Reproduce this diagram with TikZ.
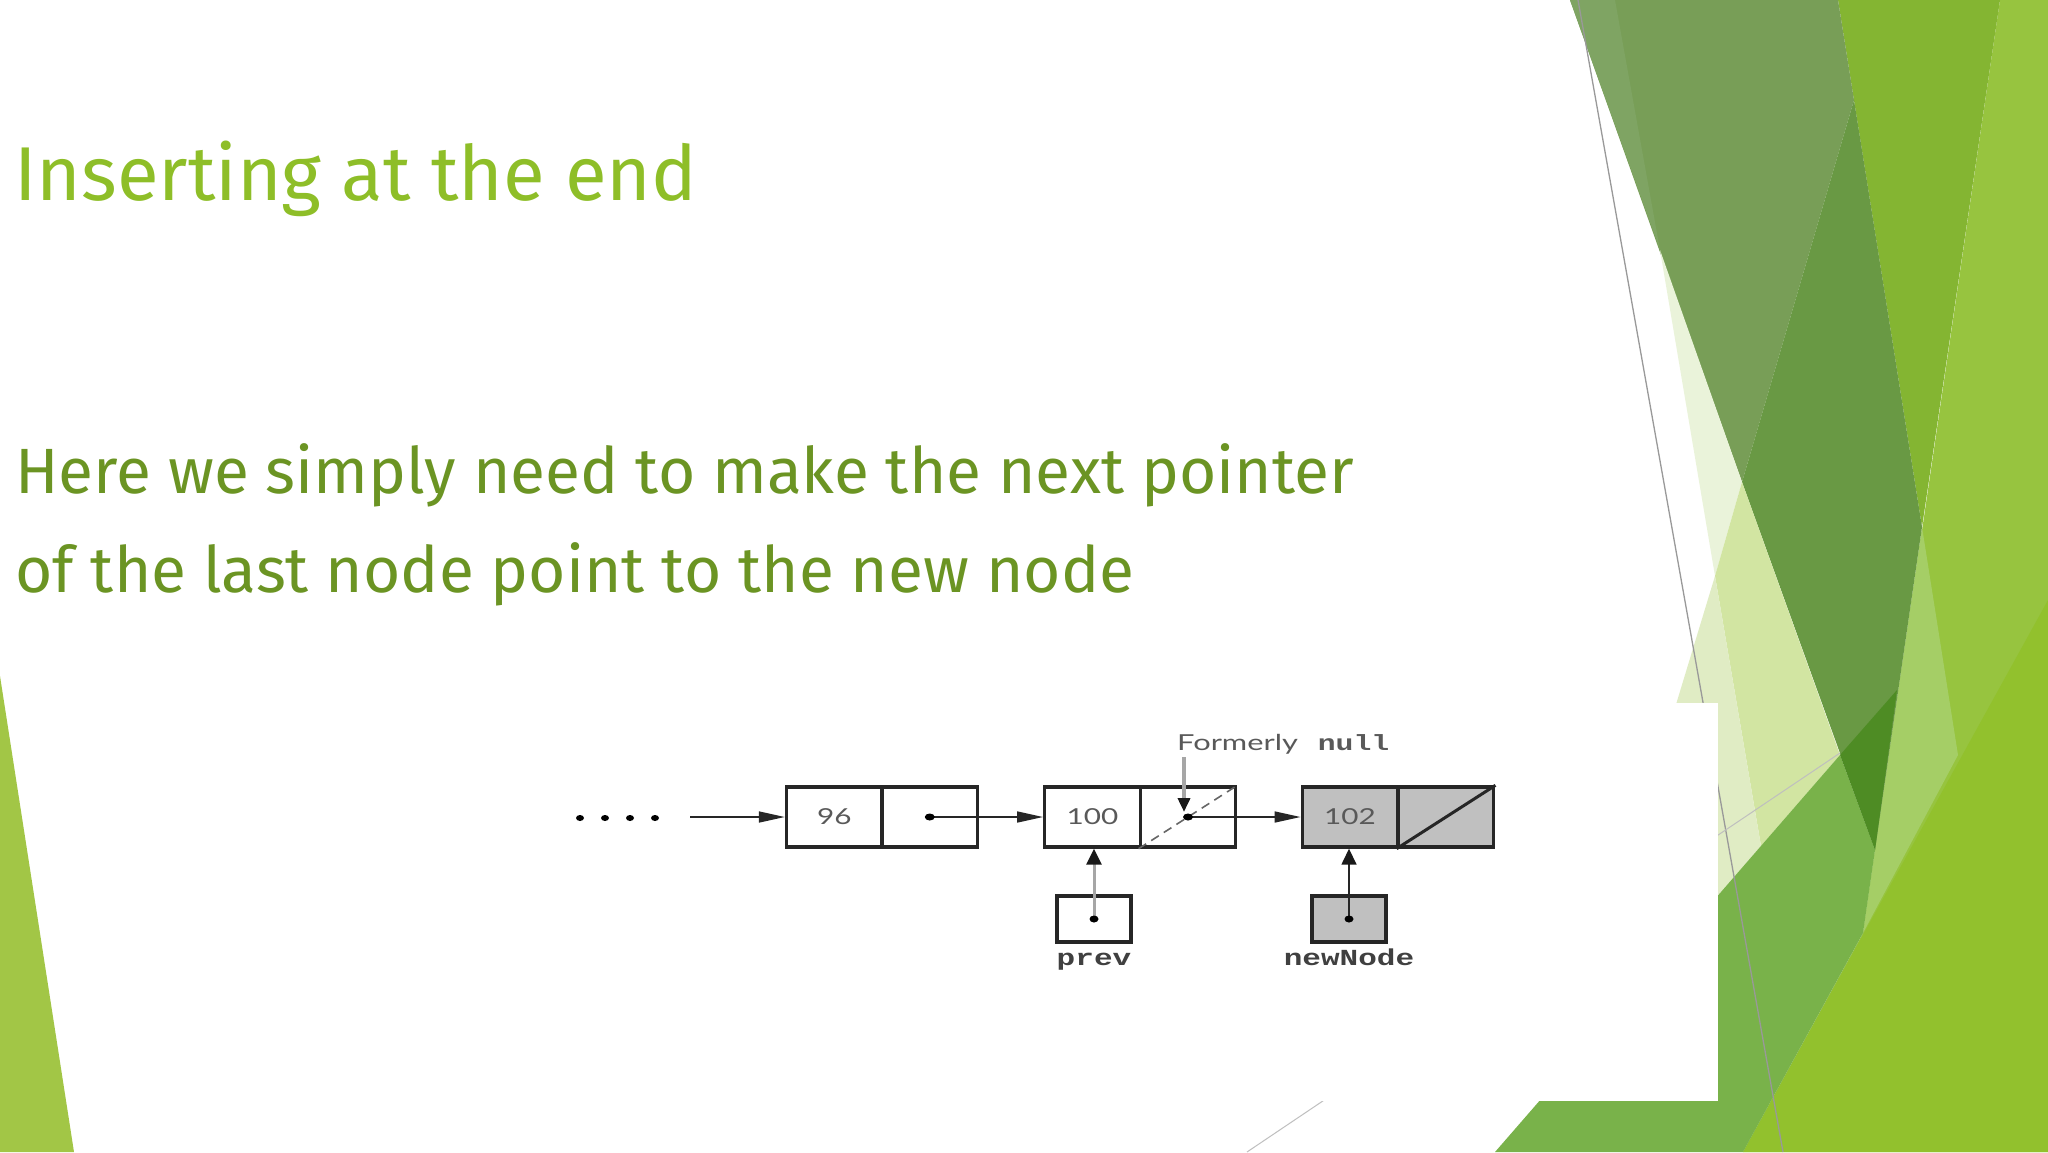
\documentclass[tikz,border=0pt]{standalone}
\usepackage{graphicx}
\usepackage{fontspec}
\setmainfont{Fira Sans}
\newfontfamily\diafont{Lato}
\newfontfamily\dmono{Liberation Mono}
\usetikzlibrary{arrows.meta}
\definecolor{titlegreen}{HTML}{8EBE28}
\definecolor{bodygreen}{HTML}{6B9423}
\definecolor{boxgray}{HTML}{C0C0C0}
\definecolor{cA}{HTML}{97C43F}
\definecolor{cB}{HTML}{A5CE66}
\definecolor{cC}{HTML}{92C12D}
\definecolor{cD}{HTML}{84B532}
\definecolor{cE}{HTML}{789E57}
\definecolor{cF}{HTML}{7FA463}
\definecolor{cG}{HTML}{699944}
\definecolor{cH}{HTML}{EAF3DA}
\definecolor{cI}{HTML}{D2E5A2}
\definecolor{cJ}{HTML}{E0ECC4}
\definecolor{cK}{HTML}{79B24A}
\definecolor{cL}{HTML}{4E8C24}
\definecolor{cM}{HTML}{A2C646}
\definecolor{picbg}{HTML}{FFFFFF}
\newcommand\dwide[1]{\scalebox{1.35}[1]{#1}}
\begin{document}
\begin{tikzpicture}[x=1pt,y=-1pt,
  cell/.style={draw=black!85, line width=3.4pt, minimum width=95.5pt, minimum height=60pt,
    inner sep=0pt, font=\diafont\fontsize{22}{24}\selectfont, text=black!65},
  ptrbox/.style={draw=black!85, line width=3.4pt, minimum width=74pt, minimum height=46pt, inner sep=0pt},
  ptr/.style={line width=1.6pt, draw=black!85, -{Triangle[length=26pt,width=11pt]}},
  upptr/.style={line width=1.6pt, draw=black!85, -{Triangle[length=16pt,width=15pt,color=black!90]}},
  grayptr/.style={line width=3.5pt, draw=black!35, -{Triangle[length=14pt,width=12pt,color=black!90]}},
  monolabel/.style={font=\dmono\bfseries\fontsize{23}{25}\selectfont, text=black!75, inner sep=0pt}
]
\useasboundingbox (0,0) rectangle (2048,1152);
\fill[white] (0,0) rectangle (2048,1152);
% left decoration
\fill[cM] (0,676) -- (74,1152) -- (0,1152) -- cycle;
% right decoration
\fill[cA] (2000,0) -- (2048,0) -- (2048,1152) -- (1743,1152) -- (1863,933) -- (1875,850) -- cycle;
\fill[cB] (1922,527) -- (1958,755) -- (1863,933) -- (1875,850) -- cycle;
\fill[cC] (1743,1152) -- (2048,600) -- (2048,1152) -- cycle;
\fill[cD] (1838,0) -- (2000,0) -- (1922,527) -- cycle;
\fill[cE] (1570,0) -- (1838,0) -- (1854,100) -- (1742,482) -- cycle;
\fill[cF] (1570,0) -- (1615,0) -- (1660,250) -- cycle;
\fill[cG] (1854,100) -- (1922,527) -- (1875,850) -- (1742,482) -- cycle;
\fill[cH] (1660,250) -- (1742,482) -- (1715,576) -- cycle;
\fill[cI] (1742,482) -- (1840,755) -- (1761,846) -- (1715,576) -- cycle;
\fill[cJ] (1715,576) -- (1761,846) -- (1699,917) -- (1647,800) -- cycle;
\fill[cK] (1840,755) -- (1875,850) -- (1863,933) -- (1743,1152) -- (1495,1152) -- cycle;
\fill[cL] (1840,755) -- (1897,690) -- (1875,850) -- cycle;
\draw[black!40, line width=1.3pt] (1578,0) -- (1783,1152);
\draw[black!25, line width=1pt] (1247,1152) -- (1840,753);
% picture background
\fill[picbg] (440,703) rectangle (1718,1101);
% title and body
\node[anchor=base west, inner sep=0pt, text=titlegreen, font=\fontsize{76.3}{80}\selectfont] (title) at (14,200) {Inserting at the end};
\node[anchor=base west, inner sep=0pt, text=bodygreen, font=\fontsize{64}{70}\selectfont] (line1) at (15,493) {Here we simply need to make the next pointer};
\node[anchor=base west, inner sep=0pt, text=bodygreen, font=\fontsize{64}{70}\selectfont] (line2) at (15,592) {of the last node point to the new node};
% list
\foreach \x in {580,605,630,655} \fill (\x,818) ellipse (4pt and 3pt);
\coordinate (start) at (690,817);
\node[cell] (a1) at (834.25,817) {\dwide{96}};
\node[cell] (a2) at (929.75,817) {};
\node[cell] (b1) at (1092.5,817) {\dwide{100}};
\node[cell] (b2) at (1188,817) {};
\node[cell, fill=boxgray] (c1) at (1350,817) {\dwide{102}};
\node[cell, fill=boxgray] (c2) at (1446,817) {};
\draw[dashed, dash pattern=on 9pt off 6pt, black!60, line width=1.6pt] (b2.south west) -- (b2.north east);
\draw[black!85, line width=3pt] (c2.south west) -- (c2.north east);
\draw[ptr] (start) -- (a1.west);
\draw[ptr] (a2.center) -- (b1.west);
\draw[ptr] (b2.center) -- (c1.west);
\fill (a2.center) ellipse (5pt and 3.5pt);
\fill (b2.center) ellipse (5pt and 3.5pt);
% formerly null
\node[anchor=base west, inner sep=0pt, text=black!65] (formerly) at (1177,750)
  {\diafont\fontsize{22}{24}\selectfont\scalebox{1.4}[1]{Formerly}\hspace{20pt}\dmono\bfseries\fontsize{22}{24}\selectfont\dwide{null}};
\draw[grayptr] (1184,757) -- (1184,812);
% prev and newNode
\node[ptrbox] (prev) at (1094,919) {};
\node[ptrbox, fill=boxgray] (nn) at (1349,919) {};
\draw[grayptr, line width=3pt, -{Triangle[length=16pt,width=15pt,color=black!90]}] (prev.center) -- (prev.center |- b1.south);
\draw[upptr] (nn.center) -- (nn.center |- c1.south);
\fill (prev.center) ellipse (4.5pt and 3.5pt);
\fill (nn.center) ellipse (4.5pt and 3.5pt);
\node[monolabel, anchor=base] (prevlbl) at (1094,965) {\dwide{prev}};
\node[monolabel, anchor=base] (nnlbl) at (1349,965) {\dwide{newNode}};
\end{tikzpicture}
\end{document}
